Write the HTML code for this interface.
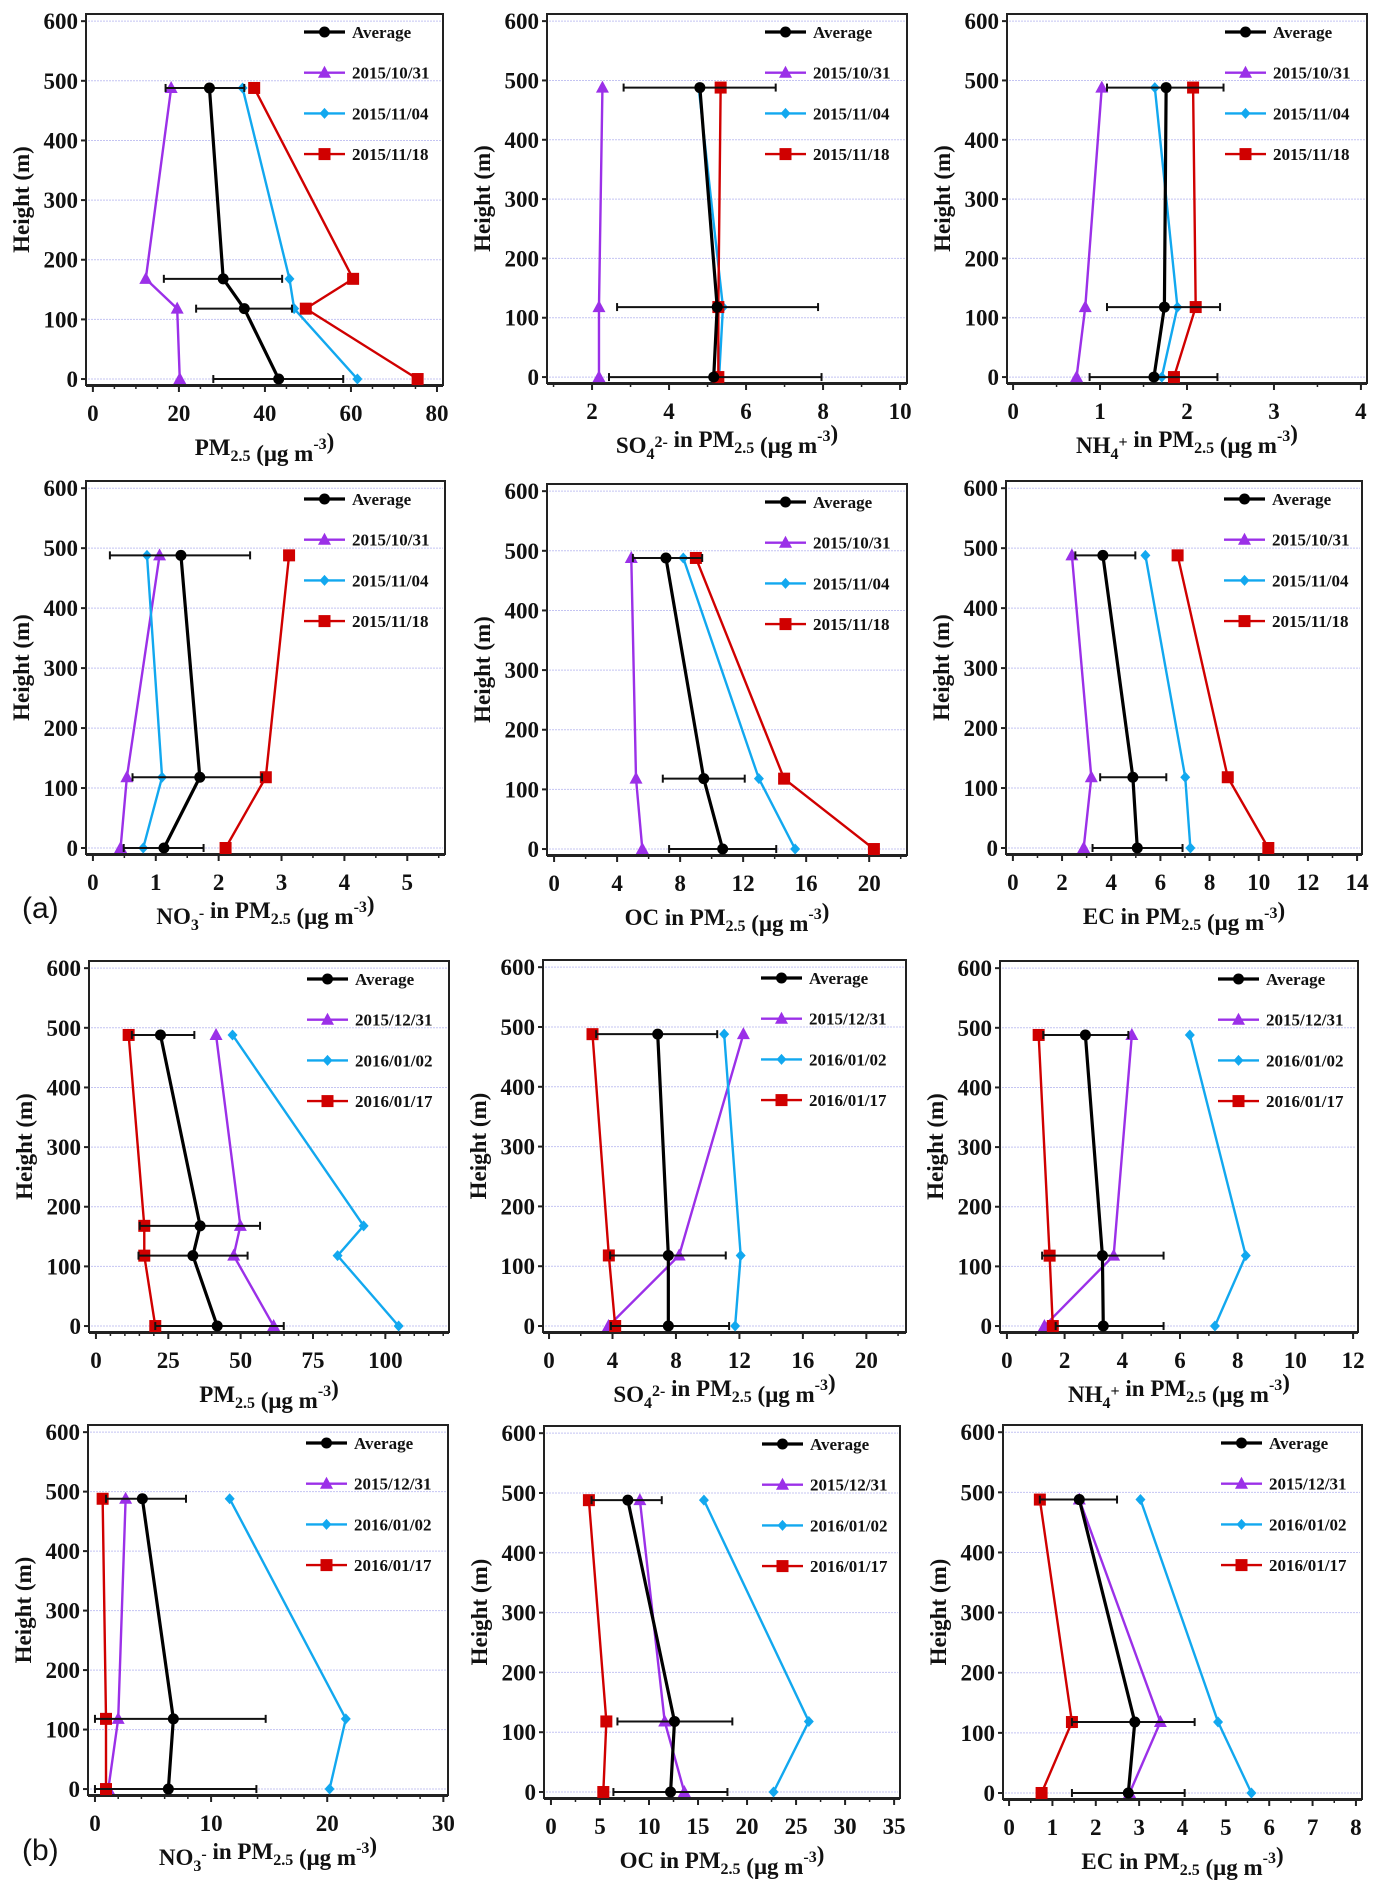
<!DOCTYPE html>
<html><head><meta charset="utf-8"><style>
html,body{margin:0;padding:0;background:#fff;}
svg{display:block;}
text{font-family:"Liberation Serif",serif;font-weight:bold;fill:#111;}
</style></head><body>
<svg id="fig" xmlns="http://www.w3.org/2000/svg" width="1381" height="1884" viewBox="0 0 1381 1884">
<text x="22" y="918" style="font-family:'Liberation Sans',sans-serif;font-weight:normal;font-size:30px">(a)</text>
<text x="22" y="1860" style="font-family:'Liberation Sans',sans-serif;font-weight:normal;font-size:30px">(b)</text>
</svg>
<script>
// heights
const h4 = [0,118,168,488];
const h3 = [0,118,488];
const yTicks = [0,100,200,300,400,500,600];
const legendA = ["Average","2015/10/31","2015/11/04","2015/11/18"];
const legendB = ["Average","2015/12/31","2016/01/02","2016/01/17"];

// (a) PM2.5
const a1Avg=[43.2,35.2,30.3,27.1], a1Lo=[28,24,16.5,16.9], a1Hi=[58.2,46.3,44,35.2];
const a1S1=[20.2,19.6,12.3,18.2], a1S2=[61.5,46.8,45.7,34.8], a1S3=[75.5,49.5,60.5,37.5];
const a1Ticks=[0,20,40,60,80];
// (a) SO4
const a2Avg=[5.16,5.25,4.8], a2Lo=[2.44,2.65,2.82], a2Hi=[7.96,7.87,6.77];
const a2S1=[2.18,2.18,2.27], a2S2=[5.3,5.4,4.77], a2S3=[5.28,5.28,5.34];
const a2Ticks=[2,4,6,8,10];
// (a) NH4
const a3Avg=[1.62,1.74,1.76], a3Lo=[0.88,1.08,1.08], a3Hi=[2.35,2.38,2.42];
const a3S1=[0.73,0.83,1.02], a3S2=[1.71,1.89,1.63], a3S3=[1.85,2.1,2.07];
const a3Ticks=[0,1,2,3,4];
// (a) NO3
const a4Avg=[1.13,1.7,1.4], a4Lo=[0.49,0.63,0.27], a4Hi=[1.76,2.69,2.5];
const a4S1=[0.44,0.54,1.06], a4S2=[0.8,1.1,0.86], a4S3=[2.11,2.75,3.12];
const a4Ticks=[0,1,2,3,4,5];
// (a) OC
const a5Avg=[10.7,9.5,7.1], a5Lo=[7.3,6.9,5], a5Hi=[14.1,12.1,9.4];
const a5S1=[5.6,5.2,4.9], a5S2=[15.3,13.0,8.2], a5S3=[20.3,14.6,9.0];
const a5Ticks=[0,4,8,12,16,20];
// (a) EC
const a6Avg=[5.06,4.88,3.66], a6Lo=[3.24,3.55,2.54], a6Hi=[6.9,6.24,4.98];
const a6S1=[2.88,3.19,2.4], a6S2=[7.22,7.01,5.39], a6S3=[10.39,8.74,6.7];
const a6Ticks=[0,2,4,6,8,10,12,14];
// (b) PM2.5
const b1Avg=[41.9,33.5,36,22.3], b1Lo=[20.5,14.7,15.1,12.4], b1Hi=[64.9,52.4,56.7,34];
const b1S1=[61.4,47.6,49.9,41.5], b1S2=[104.6,83.5,92.5,47.2], b1S3=[20.5,16.7,16.7,11.3];
const b1Ticks=[0,25,50,75,100];
// (b) SO4
const b2Avg=[7.52,7.52,6.85], b2Lo=[3.9,3.85,2.97], b2Hi=[11.35,11.14,10.6];
const b2S1=[3.75,8.2,12.25], b2S2=[11.73,12.08,11.04], b2S3=[4.17,3.77,2.74];
const b2Ticks=[0,4,8,12,16,20];
// (b) NH4
const b3Avg=[3.34,3.31,2.72], b3Lo=[1.69,1.22,1.26], b3Hi=[5.43,5.43,4.21];
const b3S1=[1.3,3.7,4.33], b3S2=[7.21,8.28,6.34], b3S3=[1.59,1.48,1.1];
const b3Ticks=[0,2,4,6,8,10,12];
// (b) NO3
const b4Avg=[6.32,6.75,4.08], b4Lo=[0,0,0.95], b4Hi=[13.9,14.7,7.84];
const b4S1=[1.15,2.0,2.64], b4S2=[20.2,21.6,11.6], b4S3=[0.95,0.95,0.66];
const b4Ticks=[0,10,20,30];
// (b) OC
const b5Avg=[12.2,12.6,7.84], b5Lo=[6.37,6.78,4.14], b5Hi=[18,18.5,11.3];
const b5S1=[13.6,11.6,9.07], b5S2=[22.7,26.3,15.6], b5S3=[5.34,5.65,3.87];
const b5Ticks=[0,5,10,15,20,25,30,35];
// (b) EC
const b6Avg=[2.75,2.9,1.62], b6Lo=[1.45,1.45,0.71], b6Hi=[4.05,4.28,2.49];
const b6S1=[2.78,3.49,1.62], b6S2=[5.59,4.82,3.03], b6S3=[0.75,1.45,0.71];
const b6Ticks=[0,1,2,3,4,5,6,7,8];

const NS="http://www.w3.org/2000/svg";
const svg=document.getElementById('fig');
function mk(tag,attrs,parent){const e=document.createElementNS(NS,tag);for(const k in attrs)e.setAttribute(k,attrs[k]);(parent||svg).appendChild(e);return e;}

const COLORS=["#000000","#9b30e8","#12a8ef","#d00000"];
const panels=[
 {id:"a-pm25",L:86,R:443,T:14,B:385,xmin:-1.6,xmax:81.4,minor:5,ticks:a1Ticks,h:h4,avg:a1Avg,lo:a1Lo,hi:a1Hi,s:[a1S1,a1S2,a1S3],leg:legendA,title:[["PM",0],["2.5",1],[" (μg m",0],["-3",2],[")",0]]},
 {id:"a-so4",L:547,R:907,T:14,B:383,xmin:0.83,xmax:10.18,minor:1,ticks:a2Ticks,h:h3,avg:a2Avg,lo:a2Lo,hi:a2Hi,s:[a2S1,a2S2,a2S3],leg:legendA,title:[["SO",0],["4",1],["2-",2],[" in PM",0],["2.5",1],[" (μg m",0],["-3",2],[")",0]]},
 {id:"a-nh4",L:1007,R:1367,T:14,B:383,xmin:-0.07,xmax:4.07,minor:0.5,ticks:a3Ticks,h:h3,avg:a3Avg,lo:a3Lo,hi:a3Hi,s:[a3S1,a3S2,a3S3],leg:legendA,title:[["NH",0],["4",1],["+",2],[" in PM",0],["2.5",1],[" (μg m",0],["-3",2],[")",0]]},
 {id:"a-no3",L:86,R:445,T:481,B:854,xmin:-0.11,xmax:5.6,minor:0.5,ticks:a4Ticks,h:h3,avg:a4Avg,lo:a4Lo,hi:a4Hi,s:[a4S1,a4S2,a4S3],leg:legendA,title:[["NO",0],["3",1],["-",2],[" in PM",0],["2.5",1],[" (μg m",0],["-3",2],[")",0]]},
 {id:"a-oc",L:547,R:907,T:484,B:855,xmin:-0.45,xmax:22.4,minor:2,ticks:a5Ticks,h:h3,avg:a5Avg,lo:a5Lo,hi:a5Hi,s:[a5S1,a5S2,a5S3],leg:legendA,title:[["OC in PM",0],["2.5",1],[" (μg m",0],["-3",2],[")",0]]},
 {id:"a-ec",L:1006,R:1362,T:481,B:854,xmin:-0.28,xmax:14.2,minor:1,ticks:a6Ticks,h:h3,avg:a6Avg,lo:a6Lo,hi:a6Hi,s:[a6S1,a6S2,a6S3],leg:legendA,title:[["EC in PM",0],["2.5",1],[" (μg m",0],["-3",2],[")",0]]},
 {id:"b-pm25",L:89,R:449,T:961,B:1332,xmin:-2.4,xmax:122,minor:5,ticks:b1Ticks,h:h4,avg:b1Avg,lo:b1Lo,hi:b1Hi,s:[b1S1,b1S2,b1S3],leg:legendB,title:[["PM",0],["2.5",1],[" (μg m",0],["-3",2],[")",0]]},
 {id:"b-so4",L:543,R:906,T:960,B:1332,xmin:-0.38,xmax:22.5,minor:2,ticks:b2Ticks,h:h3,avg:b2Avg,lo:b2Lo,hi:b2Hi,s:[b2S1,b2S2,b2S3],leg:legendB,title:[["SO",0],["4",1],["2-",2],[" in PM",0],["2.5",1],[" (μg m",0],["-3",2],[")",0]]},
 {id:"b-nh4",L:1000,R:1358,T:961,B:1332,xmin:-0.24,xmax:12.17,minor:1,ticks:b3Ticks,h:h3,avg:b3Avg,lo:b3Lo,hi:b3Hi,s:[b3S1,b3S2,b3S3],leg:legendB,title:[["NH",0],["4",1],["+",2],[" in PM",0],["2.5",1],[" (μg m",0],["-3",2],[")",0]]},
 {id:"b-no3",L:88,R:448,T:1425,B:1795,xmin:-0.6,xmax:30.4,minor:2,ticks:b4Ticks,h:h3,avg:b4Avg,lo:b4Lo,hi:b4Hi,s:[b4S1,b4S2,b4S3],leg:legendB,title:[["NO",0],["3",1],["-",2],[" in PM",0],["2.5",1],[" (μg m",0],["-3",2],[")",0]]},
 {id:"b-oc",L:544,R:900,T:1426,B:1798,xmin:-0.71,xmax:35.6,minor:2.5,ticks:b5Ticks,h:h3,avg:b5Avg,lo:b5Lo,hi:b5Hi,s:[b5S1,b5S2,b5S3],leg:legendB,title:[["OC in PM",0],["2.5",1],[" (μg m",0],["-3",2],[")",0]]},
 {id:"b-ec",L:1003,R:1362,T:1425,B:1799,xmin:-0.14,xmax:8.14,minor:0.5,ticks:b6Ticks,h:h3,avg:b6Avg,lo:b6Lo,hi:b6Hi,s:[b6S1,b6S2,b6S3],leg:legendB,title:[["EC in PM",0],["2.5",1],[" (μg m",0],["-3",2],[")",0]]}
];

function marker(g,kind,x,y,color){
  let e;
  if(kind===0){e=mk('circle',{cx:x,cy:y,r:5.5,fill:color},g);}
  else if(kind===1){e=mk('polygon',{points:`${x},${y-7} ${x-6.5},${y+5} ${x+6.5},${y+5}`,fill:color},g);}
  else if(kind===2){e=mk('polygon',{points:`${x},${y-5.5} ${x+5},${y} ${x},${y+5.5} ${x-5},${y}`,fill:color},g);}
  else {e=mk('rect',{x:x-6,y:y-6,width:12,height:12,fill:color},g);}
  return e;
}

panels.forEach(p=>{
  const g=mk('g',{});
  
  
  const X=v=>p.L+(v-p.xmin)/(p.xmax-p.xmin)*(p.R-p.L);
  const Y=v=>p.B-(v+10)/622*(p.B-p.T);
  // gridlines
  yTicks.forEach(t=>{
    const l=mk('line',{x1:p.L+2,x2:p.R-2,y1:Y(t),y2:Y(t),stroke:'#c4c4f2','stroke-width':1,'stroke-dasharray':'2,1'},g);
    
    
  });
  // frame
  const fr=mk('rect',{x:p.L,y:p.T,width:p.R-p.L,height:p.B-p.T,fill:'none',stroke:'#222','stroke-width':2},g);
  
  
  // y ticks
  yTicks.forEach(t=>{
    mk('line',{x1:p.L-5,x2:p.L,y1:Y(t),y2:Y(t),stroke:'#222','stroke-width':2},g);
    const tx=mk('text',{x:p.L-8,y:Y(t)+8,'text-anchor':'end','font-size':23},g);
    tx.textContent=t;
    
    
  });
  // x axis line + ticks
  mk('line',{x1:p.L,x2:p.R,y1:p.B+1,y2:p.B+1,stroke:'#222','stroke-width':2},g);
  const mstart=Math.ceil(p.xmin/p.minor)*p.minor;
  for(let v=mstart;v<=p.xmax+1e-9;v+=p.minor){
    mk('line',{x1:X(v),x2:X(v),y1:p.B,y2:p.B+4,stroke:'#222','stroke-width':1.5},g);
  }
  p.ticks.forEach(t=>{
    mk('line',{x1:X(t),x2:X(t),y1:p.B,y2:p.B+7,stroke:'#222','stroke-width':2},g);
    const tx=mk('text',{x:X(t),y:p.B+36,'text-anchor':'middle','font-size':23},g);
    tx.textContent=t;
    
    
  });
  // axis titles
  const yt=mk('text',{x:0,y:0,'text-anchor':'middle','font-size':23,transform:`translate(${p.L-57},${(p.T+p.B)/2}) rotate(-90)`},g);
  yt.textContent='Height (m)';
  
  
  const xt=mk('text',{x:(p.L+p.R)/2,y:p.B+70,'text-anchor':'middle','font-size':23},g);
  
  
  p.title.forEach(([s,k])=>{
    const ts=mk('tspan',{},xt);
    if(k===1){ts.setAttribute('font-size','16');ts.setAttribute('dy','6');}
    if(k===2){ts.setAttribute('font-size','16');ts.setAttribute('dy','-12');}
    ts.textContent=s;
    if(k===1){const r=mk('tspan',{dy:'-6','font-size':'23'},xt);r.textContent='';}
    if(k===2){const r=mk('tspan',{dy:'12','font-size':'23'},xt);r.textContent='';}
  });
  // series
  const series=[p.avg].concat(p.s);
  // draw colored series first, then average on top
  [1,2,3,0].forEach(i=>{
    const vals=series[i];
    const pts=vals.map((v,j)=>X(v)+','+Y(p.h[j])).join(' ');
    const pl=mk('polyline',{points:pts,fill:'none',stroke:COLORS[i],'stroke-width':i===0?3.2:2.4,'stroke-linejoin':'round'},g);
    
    
    if(i===0){
      p.h.forEach((hh,j)=>{
        const y=Y(hh);
        const eb=mk('g',{},g);
        
        
        mk('line',{x1:X(p.lo[j]),x2:X(p.hi[j]),y1:y,y2:y,stroke:'#111','stroke-width':2},eb);
        mk('line',{x1:X(p.lo[j]),x2:X(p.lo[j]),y1:y-4,y2:y+4,stroke:'#111','stroke-width':2},eb);
        mk('line',{x1:X(p.hi[j]),x2:X(p.hi[j]),y1:y-4,y2:y+4,stroke:'#111','stroke-width':2},eb);
      });
    }
    vals.forEach((v,j)=>{
      const m=marker(g,i,X(v),Y(p.h[j]),COLORS[i]);
      
      
    });
  });
  // legend
  p.leg.forEach((lab,i)=>{
    const ly=p.T+18+i*40.7;
    const lg=mk('g',{},g);
    
    
    mk('line',{x1:p.L+218,x2:p.L+259,y1:ly,y2:ly,stroke:COLORS[i],'stroke-width':i===0?3.2:2.4},lg);
    marker(lg,i,p.L+238.5,ly,COLORS[i]);
    const t=mk('text',{x:p.L+266,y:ly+6,'font-size':17},lg);
    t.textContent=lab;
  });
});
</script>
</body></html>
